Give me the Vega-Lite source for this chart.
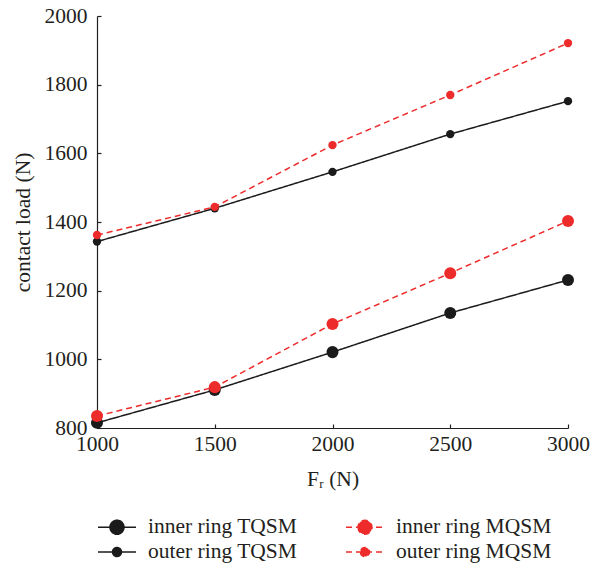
{
  "$schema": "https://vega.github.io/schema/vega-lite/v6.json",
  "width": 471,
  "height": 412,
  "autosize": "none",
  "padding": {"left": 97, "top": 16, "right": 35, "bottom": 139},
  "background": "white",
  "config": {
    "view": {"stroke": null},
    "font": "Liberation Serif",
    "axis": {
      "labelFont": "Liberation Serif",
      "labelFontSize": 21.5,
      "labelColor": "#231f20",
      "labelFlush": false,
      "titleFont": "Liberation Serif",
      "titleFontSize": 21.5,
      "titleFontWeight": "normal",
      "titleColor": "#231f20",
      "domainColor": "#231f20",
      "domainWidth": 1.2,
      "tickColor": "#231f20",
      "tickWidth": 1.2,
      "tickSize": -4,
      "grid": false
    },
    "legend": {
      "labelFont": "Liberation Serif",
      "labelFontSize": 21.5,
      "labelColor": "#231f20"
    }
  },
  "data": {
    "values": [
      {"Fr": 1000, "load": 815, "ring": "inner", "series": "inner ring TQSM"},
      {"Fr": 1500, "load": 911, "ring": "inner", "series": "inner ring TQSM"},
      {"Fr": 2000, "load": 1021, "ring": "inner", "series": "inner ring TQSM"},
      {"Fr": 2500, "load": 1135, "ring": "inner", "series": "inner ring TQSM"},
      {"Fr": 3000, "load": 1231, "ring": "inner", "series": "inner ring TQSM"},
      {"Fr": 1000, "load": 1343, "ring": "outer", "series": "outer ring TQSM"},
      {"Fr": 1500, "load": 1440, "ring": "outer", "series": "outer ring TQSM"},
      {"Fr": 2000, "load": 1546, "ring": "outer", "series": "outer ring TQSM"},
      {"Fr": 2500, "load": 1656, "ring": "outer", "series": "outer ring TQSM"},
      {"Fr": 3000, "load": 1752, "ring": "outer", "series": "outer ring TQSM"},
      {"Fr": 1000, "load": 835, "ring": "inner", "series": "inner ring MQSM"},
      {"Fr": 1500, "load": 919, "ring": "inner", "series": "inner ring MQSM"},
      {"Fr": 2000, "load": 1103, "ring": "inner", "series": "inner ring MQSM"},
      {"Fr": 2500, "load": 1251, "ring": "inner", "series": "inner ring MQSM"},
      {"Fr": 3000, "load": 1403, "ring": "inner", "series": "inner ring MQSM"},
      {"Fr": 1000, "load": 1362, "ring": "outer", "series": "outer ring MQSM"},
      {"Fr": 1500, "load": 1444, "ring": "outer", "series": "outer ring MQSM"},
      {"Fr": 2000, "load": 1624, "ring": "outer", "series": "outer ring MQSM"},
      {"Fr": 2500, "load": 1770, "ring": "outer", "series": "outer ring MQSM"},
      {"Fr": 3000, "load": 1921, "ring": "outer", "series": "outer ring MQSM"}
    ]
  },
  "encoding": {
    "x": {
      "field": "Fr",
      "type": "quantitative",
      "scale": {"domain": [1000, 3000], "nice": false, "zero": false},
      "axis": {"values": [1000, 1500, 2000, 2500, 3000], "title": "Fᵣ (N)", "labelPadding": 9, "titlePadding": 14, "format": "d"}
    },
    "y": {
      "field": "load",
      "type": "quantitative",
      "scale": {"domain": [800, 2000], "nice": false, "zero": false},
      "axis": {"values": [800, 1000, 1200, 1400, 1600, 1800, 2000], "title": "contact load (N)", "labelPadding": 14, "titlePadding": 10, "format": "d"}
    }
  },
  "layer": [
    {
      "mark": {"type": "line", "strokeWidth": 1.5},
      "encoding": {
        "color": {
          "field": "series",
          "type": "nominal",
          "scale": {
            "domain": ["inner ring TQSM", "inner ring MQSM", "outer ring TQSM", "outer ring MQSM"],
            "range": ["#1b1b1b", "#ee2b2b", "#1b1b1b", "#ee2b2b"]
          },
          "legend": {
            "title": null,
            "orient": "bottom",
            "columns": 2,
            "columnPadding": 45,
            "rowPadding": 3,
            "labelOffset": 29,
            "symbolSize": 400,
            "offset": 26,
            "encode": {
              "symbols": {
                "update": {
                  "shape": {"signal": "indexof(datum.value,'inner')>=0 ? 'M-1,0L2.8,0M0.2,0A0.7,0.7,0,1,0,1.6,0A0.7,0.7,0,1,0,0.2,0Z' : 'M-1,0L2.8,0M0.45,0A0.45,0.45,0,1,0,1.35,0A0.45,0.45,0,1,0,0.45,0Z'"},
                  "fill": {"signal": "indexof(datum.value,'MQSM')>=0 ? '#ee2b2b' : '#1b1b1b'"},
                  "stroke": {"signal": "indexof(datum.value,'MQSM')>=0 ? '#ee2b2b' : '#1b1b1b'"},
                  "strokeDash": {"signal": "indexof(datum.value,'MQSM')>=0 ? [6,4] : [1,0]"},
                  "strokeWidth": {"value": 1.5},
                  "size": {"value": 400},
                  "opacity": {"value": 1}
                }
              }
            }
          }
        },
        "strokeDash": {
          "field": "series",
          "type": "nominal",
          "scale": {
            "domain": ["inner ring TQSM", "inner ring MQSM", "outer ring TQSM", "outer ring MQSM"],
            "range": [[1, 0], [6, 4], [1, 0], [6, 4]]
          },
          "legend": null
        }
      }
    },
    {
      "transform": [{"filter": "datum.ring === 'inner'"}],
      "mark": {"type": "point", "filled": true, "opacity": 1, "size": 145, "shape": "circle"},
      "encoding": {
        "color": {"field": "series", "type": "nominal", "legend": null}
      }
    },
    {
      "transform": [{"filter": "datum.ring === 'outer'"}],
      "mark": {"type": "point", "filled": true, "opacity": 1, "size": 70, "shape": "circle"},
      "encoding": {
        "color": {"field": "series", "type": "nominal", "legend": null}
      }
    }
  ]
}
